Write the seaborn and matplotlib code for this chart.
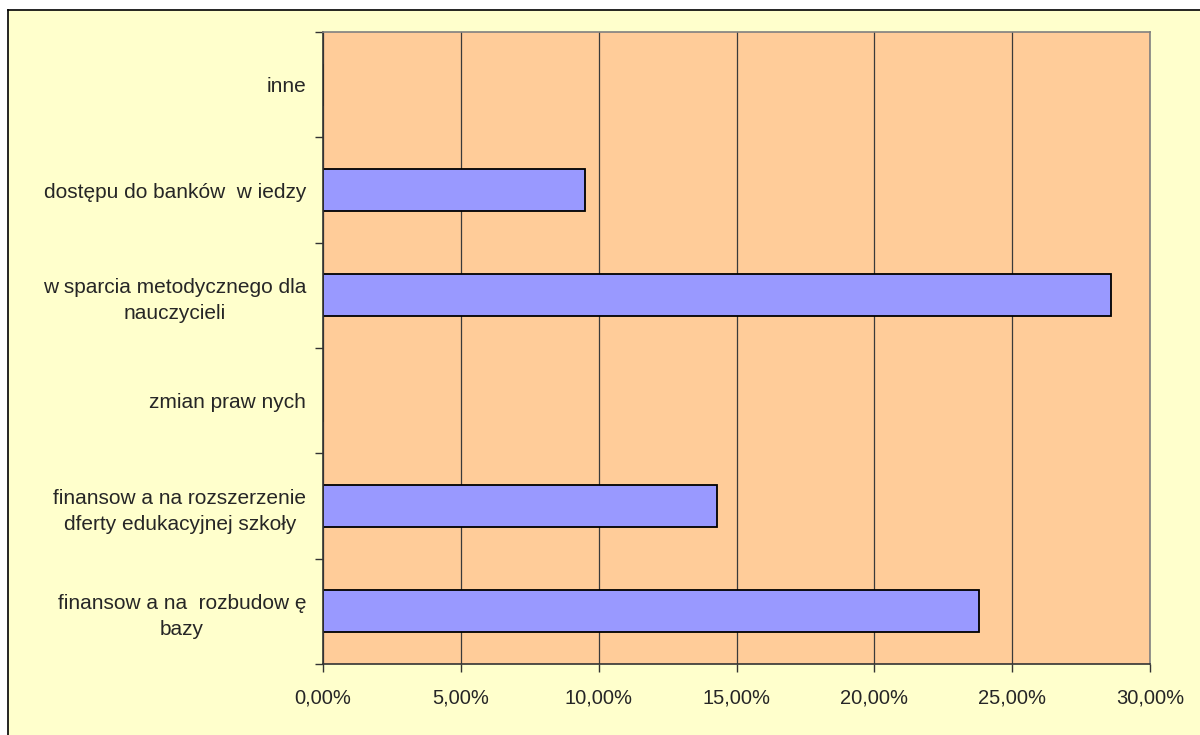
import matplotlib.pyplot as plt
import seaborn as sns
import pandas as pd
from matplotlib.ticker import FuncFormatter

categories = [
    "inne",
    "dostępu do banków  w iedzy",
    "w sparcia metodycznego dla\nnauczycieli",
    "zmian praw nych",
    "finansow a na rozszerzenie\ndferty edukacyjnej szkoły",
    "finansow a na  rozbudow ę\nbazy",
]
values = [0.0, 9.52, 28.57, 0.0, 14.29, 23.81]

df = pd.DataFrame({"category": categories, "value": values})

sns.set_style("white")
plt.rcParams["font.family"] = ["Liberation Sans", "DejaVu Sans"]

fig = plt.figure(figsize=(12, 7.35), dpi=100, facecolor="white")
# outer chart area with its border
bg = fig.add_axes([8 / 1200, 0, 1 - 8 / 1200, 1 - 10 / 735])
bg.set_facecolor("#FFFFCC")
bg.set_xticks([])
bg.set_yticks([])
for side in ["right", "bottom"]:
    bg.spines[side].set_visible(False)
for side in ["left", "top"]:
    bg.spines[side].set_color("black")
    bg.spines[side].set_linewidth(1.2)

ax = fig.add_axes([323 / 1200, 1 - 664 / 735, (1150 - 323) / 1200, (664 - 32) / 735])
ax.set_facecolor("#FFCC99")
sns.barplot(data=df, y="category", x="value", orient="h", color="#9999FF",
            edgecolor="black", linewidth=1.3, width=0.4, saturation=1, ax=ax)

ax.set_xlim(0, 30)
ax.set_xticks([0, 5, 10, 15, 20, 25, 30])
ax.xaxis.set_major_formatter(FuncFormatter(lambda v, _: f"{v:.2f}%".replace(".", ",")))
ax.set_axisbelow(True)
ax.grid(axis="x", color="#3a3a3a", linewidth=0.9)
ax.grid(axis="y", visible=False)
ax.set_xlabel("")
ax.set_ylabel("")

n = len(categories)
ax.set_ylim(n - 0.5, -0.5)
ax.set_yticks([i - 0.5 for i in range(n + 1)], minor=False)
ax.set_yticklabels([])
ax.set_yticks(range(n), minor=True)
ax.set_yticklabels(categories, minor=True, fontsize=15, multialignment="center",
                   linespacing=1.45)
ax.tick_params(axis="y", which="minor", length=0, pad=12)
ax.tick_params(axis="y", which="major", length=6, width=1, color="#333333", direction="out", left=True)
ax.tick_params(axis="x", length=6, width=1, color="#333333", direction="out", bottom=True,
               labelsize=14.5, pad=12)

ax.spines["left"].set_color("#333333")
ax.spines["bottom"].set_color("#333333")
ax.spines["top"].set_color("#808080")
ax.spines["right"].set_color("#808080")
for s in ax.spines.values():
    s.set_linewidth(1.2)

plt.savefig("out.png", dpi=100, facecolor="white")
